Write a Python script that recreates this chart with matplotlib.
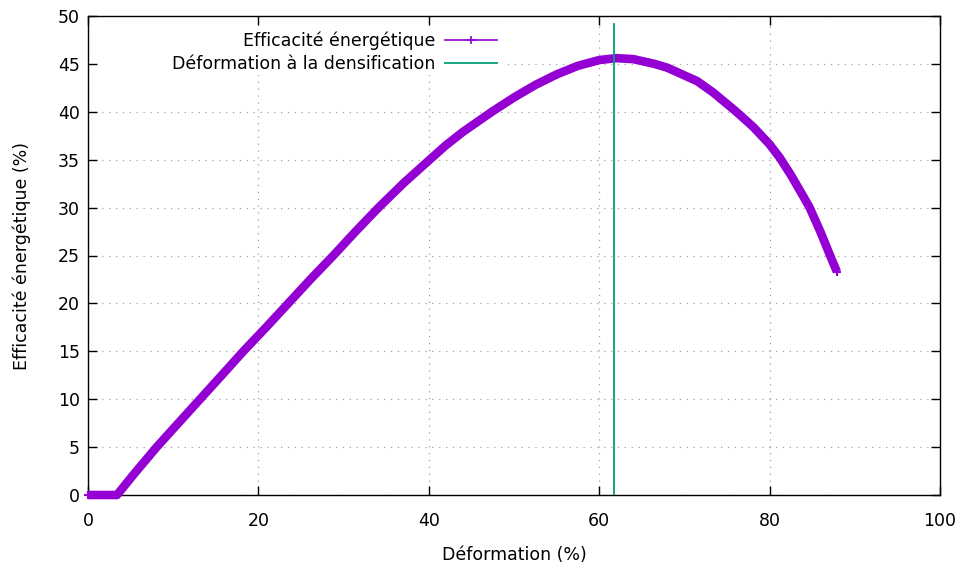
import matplotlib
matplotlib.use("Agg")
import matplotlib.pyplot as plt
from matplotlib.lines import Line2D
from matplotlib.patches import Rectangle

# Data
deformation = [0.0, 1.0, 2.0, 3.4, 5.5, 8.06, 10.6, 13.15, 15.7, 18.23, 20.9, 23.5, 26.1,
               28.8, 31.4, 34.1, 37.1, 40.1, 42.0, 44.0, 47.4, 50.0, 52.5, 55.0,
               57.5, 60.0, 62.0, 64.0, 66.5, 68.0, 69.5, 71.5, 73.4, 76.1, 78.1,
               80.0, 81.2, 82.5, 84.0, 84.7, 86.0, 87.1, 87.9]
efficacite = [0.0, 0.0, 0.0, 0.0, 2.3, 5.0, 7.5, 10.0, 12.5, 15.0, 17.5, 20.0, 22.5,
              25.0, 27.5, 30.0, 32.6, 35.0, 36.5, 37.9, 40.0, 41.5, 42.8, 43.9,
              44.8, 45.4, 45.6, 45.5, 45.0, 44.6, 44.0, 43.2, 42.0, 40.0, 38.4,
              36.6, 35.2, 33.4, 31.1, 30.0, 27.4, 25.0, 23.3]
densification_x = 61.7
densification_y = [0.0, 49.2]

xticks = [0, 20, 40, 60, 80, 100]
yticks = [0, 5, 10, 15, 20, 25, 30, 35, 40, 45, 50]

purple = "#9400d3"
green = "#009e73"

plt.rcParams['font.family'] = ['DejaVu Sans']
fig = plt.figure(figsize=(9.59, 5.67), dpi=100)
rect = [88/959, (567-495)/567, (940-88)/959, (495-16)/567]

# background axes holding only the grid (hidden under the key area, as in gnuplot)
axg = fig.add_axes(rect, zorder=0)
axg.set_xlim(0, 100)
axg.set_ylim(0, 50)
axg.set_xticks(xticks)
axg.set_yticks(yticks)
axg.tick_params(length=0, labelbottom=False, labelleft=False)
for s in axg.spines.values():
    s.set_visible(False)
axg.grid(True, color='#a0a0a0', linestyle=(0, (1, 4.5)), linewidth=0.9)
axg.add_patch(Rectangle((0, (495-75)/479), (506-88)/852, 1, transform=axg.transAxes,
                        facecolor='white', edgecolor='none', zorder=5))

ax = fig.add_axes(rect, zorder=1)
ax.patch.set_visible(False)
ax.plot(deformation, efficacite, color=purple, lw=6.2, solid_capstyle='butt',
        solid_joinstyle='round', marker='+', ms=6, mew=1.5, zorder=3, clip_on=False)
ax.plot([densification_x, densification_x], densification_y, color=green, lw=1.3, zorder=4)

ax.set_xlim(0, 100)
ax.set_ylim(0, 50)
ax.set_xticks(xticks)
ax.set_yticks(yticks)
ax.tick_params(axis='both', direction='in', length=6.5, width=1, top=True, right=True,
               labelsize=12.5, colors='black')
ax.tick_params(axis='x', pad=12)
ax.tick_params(axis='y', pad=6)
for s in ax.spines.values():
    s.set_linewidth(1.0)
ax.set_xlabel("Déformation (%)", fontsize=12.5)
ax.set_ylabel("Efficacité énergétique (%)", fontsize=12.5)
ax.xaxis.set_label_coords(0.5, (495 - 546) / 479)
ax.yaxis.set_label_coords((31 - 88) / 852, 0.5)

handles = [Line2D([], [], color=purple, lw=1.2, marker='+', ms=6, mew=1.2),
           Line2D([], [], color=green, lw=1.3)]
labels = ["Efficacité énergétique", "Déformation à la densification"]
leg = fig.legend(handles, labels, loc='upper right', bbox_to_anchor=(497/959, (567-32)/567),
                 frameon=False, markerfirst=False, fontsize=12.5, handlelength=3.0,
                 handletextpad=0.55, labelspacing=0.25, borderpad=0, borderaxespad=0,
                 numpoints=1)

fig.savefig("out.png", dpi=100)
